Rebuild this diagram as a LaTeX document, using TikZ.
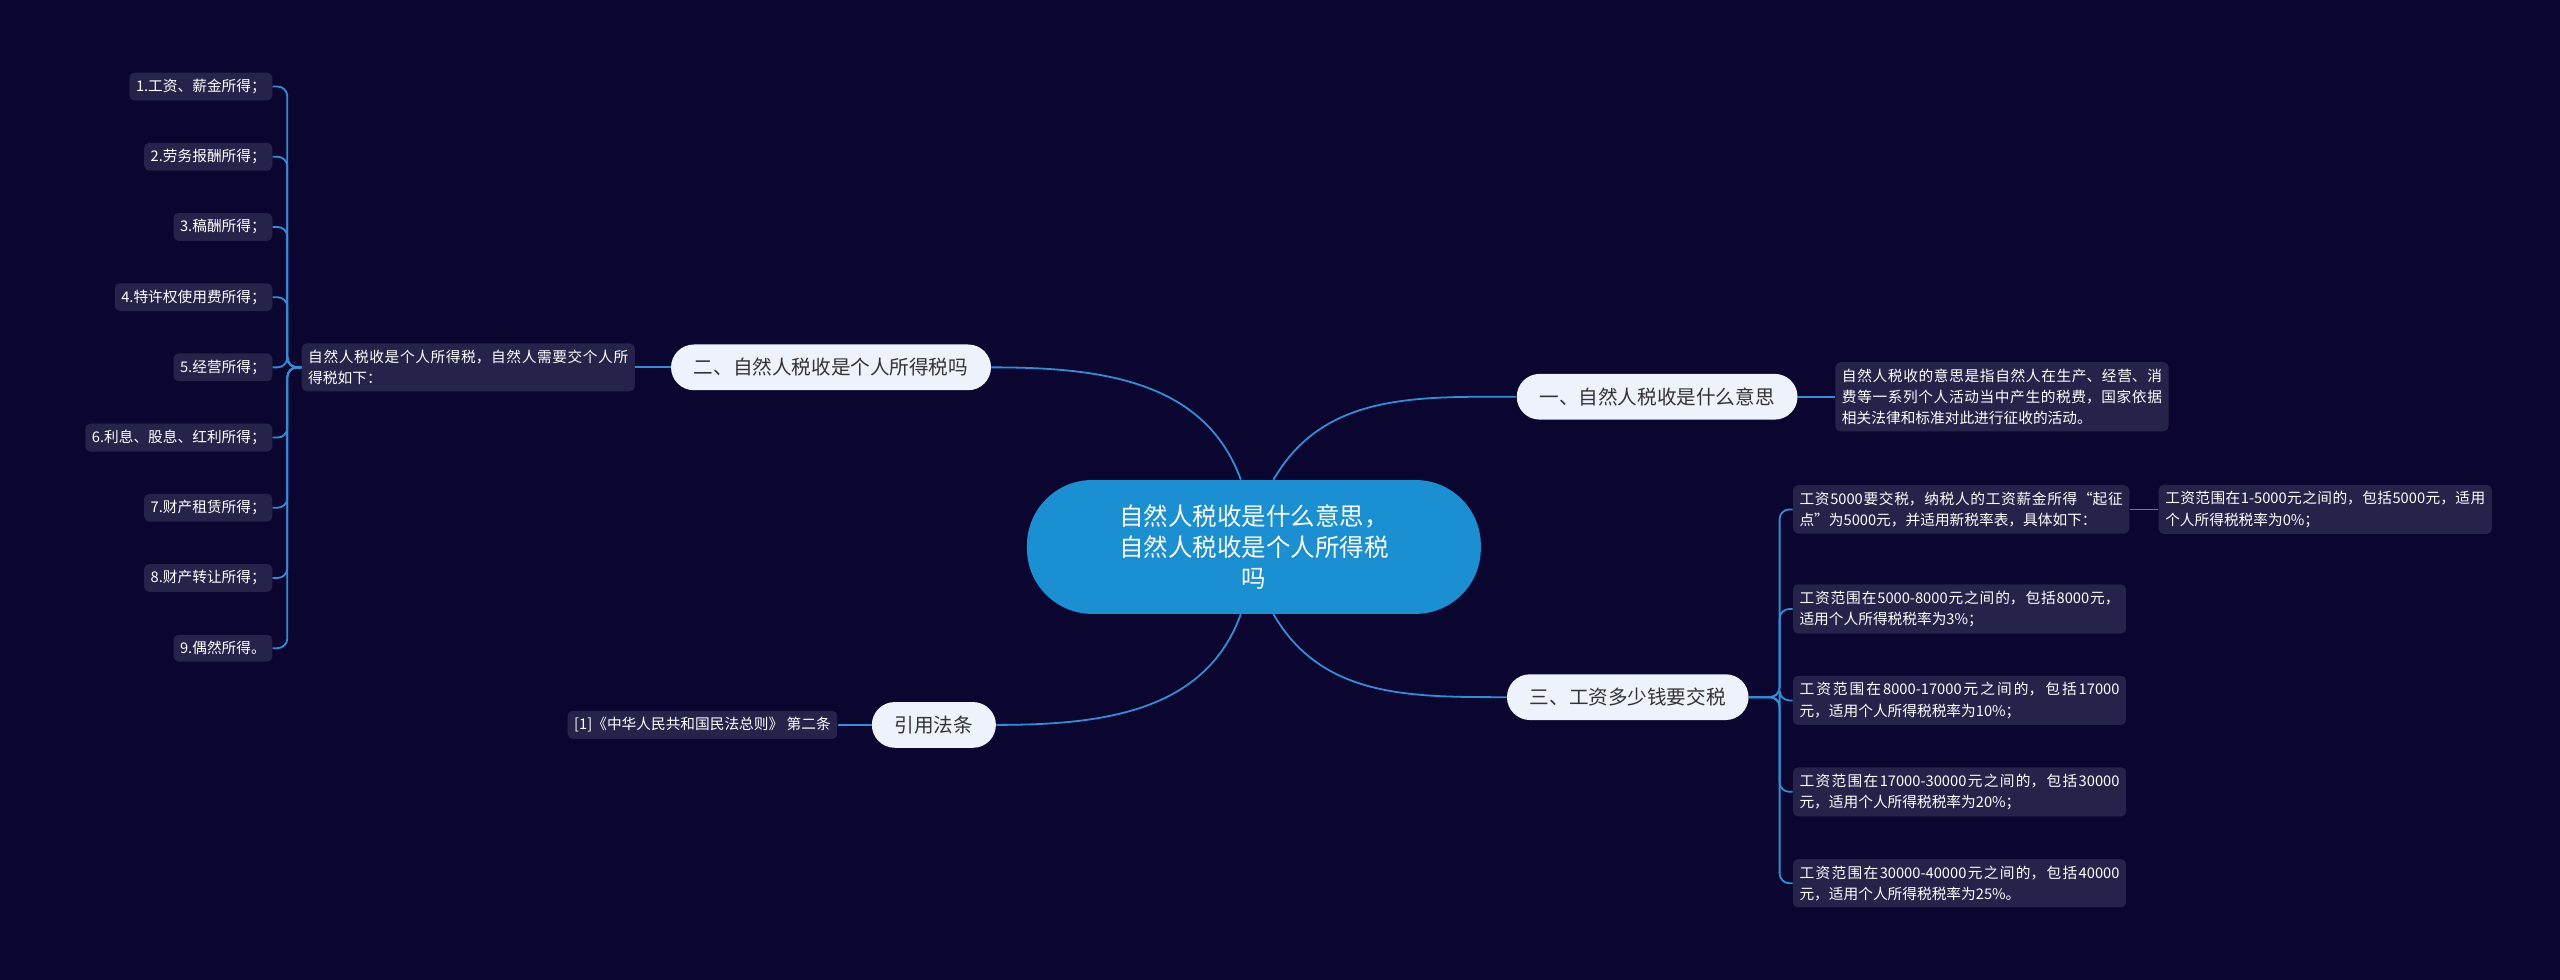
\documentclass[tikz,border=0pt]{standalone}
\usepackage{fontspec}
\setmainfont{Noto Sans CJK SC}
\XeTeXlinebreaklocale "zh"
\XeTeXlinebreakskip=0pt plus 1pt
\usetikzlibrary{calc}
\definecolor{bg}{HTML}{0A0630}
\definecolor{hub}{HTML}{1A8FD2}
\definecolor{pill}{HTML}{EEF2FB}
\definecolor{leafbg}{HTML}{25234A}
\definecolor{wire}{HTML}{2E8FD6}
\tikzset{
  topic/.style={draw=none,fill=pill,rounded corners=14pt,minimum height=28pt,inner xsep=14pt,
    text=black!80,font=\fontsize{12}{14}\selectfont},
  leaf/.style={fill=leafbg,rounded corners=3pt,text=white,inner sep=4pt,
    font=\fontsize{9}{13}\selectfont,align=justify},
  wired/.style={draw=wire,line width=1.1pt}
}
\begin{document}
\begin{tikzpicture}[x=1pt,y=1pt]
\useasboundingbox[fill=bg] (0,0) rectangle (1568,-600);
\node[fill=hub,rounded corners=40pt,minimum width=278pt,minimum height=82pt,text=white,
  font=\fontsize{15}{19}\selectfont,align=center] (hub) at (768,-335)
  {自然人税收是什么意思，\\自然人税收是个人所得税\\吗};
\node[topic] (one) at (1015,-243) {一、自然人税收是什么意思};
\node[topic] (two) at (509,-225) {二、自然人税收是个人所得税吗};
\node[topic] (three) at (997,-427) {三、工资多少钱要交税};
\node[topic] (law) at (572,-444) {引用法条};
%
\node[leaf,text width=196pt,anchor=west] (oneA) at (1124,-243)
  {自然人税收的意思是指自然人在生产、经营、消费等一系列个人活动当中产生的税费，国家依据相关法律和标准对此进行征收的活动。};
\node[leaf,text width=196pt,anchor=east] (twoA) at (389,-225)
  {自然人税收是个人所得税，自然人需要交个人所得税如下：};
\node[leaf,anchor=east] (lawA) at (513,-444) {[1]《中华人民共和国民法总则》 第二条};
%
\foreach \name/\txt [count=\i] in {iA/1.工资、薪金所得；,iB/2.劳务报酬所得；,iC/3.稿酬所得；,
  iD/4.特许权使用费所得；,iE/5.经营所得；,iF/6.利息、股息、红利所得；,iG/7.财产租赁所得；,
  iH/8.财产转让所得；,iI/9.偶然所得。}
  \node[leaf,anchor=east] (\name) at (167,-10-43*\i) {\txt};
%
\node[leaf,text width=198pt,anchor=west] (tA) at (1098,-312)
  {工资5000要交税，纳税人的工资薪金所得“起征点”为5000元，并适用新税率表，具体如下：};
\node[leaf,text width=196pt,anchor=west] (tB) at (1098,-373)
  {工资范围在5000-8000元之间的，包括8000元，适用个人所得税税率为3\%；};
\node[leaf,text width=196pt,anchor=west] (tC) at (1098,-429)
  {工资范围在8000-17000元之间的，包括17000元，适用个人所得税税率为10\%；};
\node[leaf,text width=196pt,anchor=west] (tD) at (1098,-485)
  {工资范围在17000-30000元之间的，包括30000元，适用个人所得税税率为20\%；};
\node[leaf,text width=196pt,anchor=west] (tE) at (1098,-541)
  {工资范围在30000-40000元之间的，包括40000元，适用个人所得税税率为25\%。};
\node[leaf,text width=196pt,anchor=west] (tAA) at (1322,-312)
  {工资范围在1-5000元之间的，包括5000元，适用个人所得税税率为0\%；};
% hub to topics
\draw[wired] ($(hub.north)+(12,0)$) to[out=60,in=180] (one.west);
\draw[wired] ($(hub.north)+(-8,0)$) to[out=110,in=0] (two.east);
\draw[wired] ($(hub.south)+(12,0)$) to[out=-60,in=180] (three.west);
\draw[wired] ($(hub.south)+(-8,0)$) to[out=-110,in=0] (law.east);
% topics to leaves
\draw[wired] (one.east) -- (oneA.west);
\draw[wired] (two.west) -- (twoA.east);
\draw[wired] (law.west) -- (lawA.east);
\draw[wired] (tA.east) -- (tAA.west);
\foreach \n in {iA,iB,iC,iD,iE,iF,iG,iH,iI}
  \draw[wired,rounded corners=6pt] (twoA.west) -- (176,-225) |- (\n.east);
\foreach \n in {tA,tB,tC,tD,tE}
  \draw[wired,rounded corners=6pt] (three.east) -- (1090,-427) |- (\n.west);
\end{tikzpicture}
\end{document}
